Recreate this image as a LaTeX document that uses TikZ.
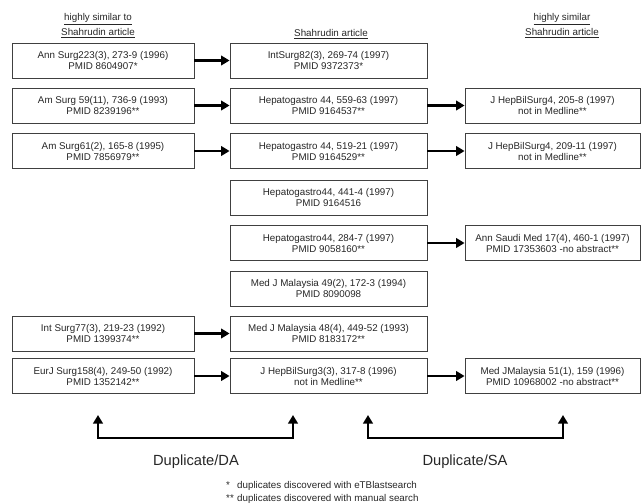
\documentclass[tikz,border=0pt]{standalone}
\usepackage{fontspec}
\setmainfont{Liberation Sans}
\usetikzlibrary{arrows.meta}

\begin{document}
\begin{tikzpicture}[x=1pt,y=-1pt,
  art/.style={draw=black!75, line width=0.8pt, minimum height=35pt, inner sep=0pt,
    align=center, text=black!85, font=\fontsize{9.8}{11}\selectfont},
  leftart/.style={art, minimum width=182pt},
  midart/.style={art, minimum width=197pt},
  rightart/.style={art, minimum width=175pt},
  link/.style={line width=2.2pt, -{Triangle[length=8.5pt,width=9.5pt]}},
  bracket/.style={line width=2.2pt, line join=miter,
    {Triangle[length=8.5pt,width=9.5pt]}-{Triangle[length=8.5pt,width=9.5pt]}},
  head/.style={align=center, inner sep=0pt, text=black!85, font=\fontsize{9.8}{15}\selectfont},
  dup/.style={inner sep=0pt, text=black!85, font=\fontsize{14.7}{16}\selectfont}]
  \useasboundingbox (0,0) rectangle (641,504);

  % column titles
  \node[head] (hleft) at (98,25.5) {\underline{highly similar to}\\\underline{Shahrudin article}};
  \node[head] (hmid) at (331,34) {\underline{Shahrudin article}};
  \node[head] (hright) at (562,25.5) {\underline{highly similar}\\\underline{Shahrudin article}};

  % row 1
  \node[leftart] (L1) at (103,60.5) {Ann Surg223(3), 273-9 (1996)\\PMID 8604907*};
  \node[midart] (M1) at (328.5,60.5) {IntSurg82(3), 269-74 (1997)\\PMID 9372373*};
  % row 2
  \node[leftart] (L2) at (103,105.5) {Am Surg 59(11), 736-9 (1993)\\PMID 8239196**};
  \node[midart] (M2) at (328.5,105.5) {Hepatogastro 44, 559-63 (1997)\\PMID 9164537**};
  \node[rightart] (R2) at (552.5,105.5) {J HepBilSurg4, 205-8 (1997)\\not in Medline**};
  % row 3
  \node[leftart] (L3) at (103,151) {Am Surg61(2), 165-8 (1995)\\PMID 7856979**};
  \node[midart] (M3) at (328.5,151) {Hepatogastro 44, 519-21 (1997)\\PMID 9164529**};
  \node[rightart] (R3) at (552.5,151) {J HepBilSurg4, 209-11 (1997)\\not in Medline**};
  % row 4
  \node[midart] (M4) at (328.5,197.5) {Hepatogastro44, 441-4 (1997)\\PMID 9164516};
  % row 5
  \node[midart] (M5) at (328.5,243) {Hepatogastro44, 284-7 (1997)\\PMID 9058160**};
  \node[rightart] (R5) at (552.5,243) {Ann Saudi Med 17(4), 460-1 (1997)\\PMID 17353603 -no abstract**};
  % row 6
  \node[midart] (M6) at (328.5,288.5) {Med J Malaysia 49(2), 172-3 (1994)\\PMID 8090098};
  % row 7
  \node[leftart] (L7) at (103,333.5) {Int Surg77(3), 219-23 (1992)\\PMID 1399374**};
  \node[midart] (M7) at (328.5,333.5) {Med J Malaysia 48(4), 449-52 (1993)\\PMID 8183172**};
  % row 8
  \node[leftart] (L8) at (103,376) {EurJ Surg158(4), 249-50 (1992)\\PMID 1352142**};
  \node[midart] (M8) at (328.5,376) {J HepBilSurg3(3), 317-8 (1996)\\not in Medline**};
  \node[rightart] (R8) at (552.5,376) {Med JMalaysia 51(1), 159 (1996)\\PMID 10968002 -no abstract**};

  % arrows
  \draw[link] (L1) -- (M1);
  \draw[link] (L2) -- (M2);
  \draw[link] (M2) -- (R2);
  \draw[link] (L3) -- (M3);
  \draw[link] (M3) -- (R3);
  \draw[link] (M5) -- (R5);
  \draw[link] (L7) -- (M7);
  \draw[link] (L8) -- (M8);
  \draw[link] (M8) -- (R8);

  % brackets at the bottom
  \coordinate (da1) at (98,415);
  \coordinate (da2) at (293,415);
  \coordinate (sa1) at (368,415);
  \coordinate (sa2) at (563,415);
  \draw[bracket] (da1) -- ++(0,23) -| (da2);
  \draw[bracket] (sa1) -- ++(0,23) -| (sa2);
  \node[dup] (dalab) at (196,462) {Duplicate/DA};
  \node[dup] (salab) at (465,462) {Duplicate/SA};

  % footnotes
  \node[anchor=west, align=left, inner sep=0pt, text=black!85, font=\fontsize{9.8}{13}\selectfont] (notes) at (226,492.5)
    {\makebox[11pt][l]{*}duplicates discovered with eTBlastsearch\\
     \makebox[11pt][l]{**}duplicates discovered with manual search};
\end{tikzpicture}
\end{document}
